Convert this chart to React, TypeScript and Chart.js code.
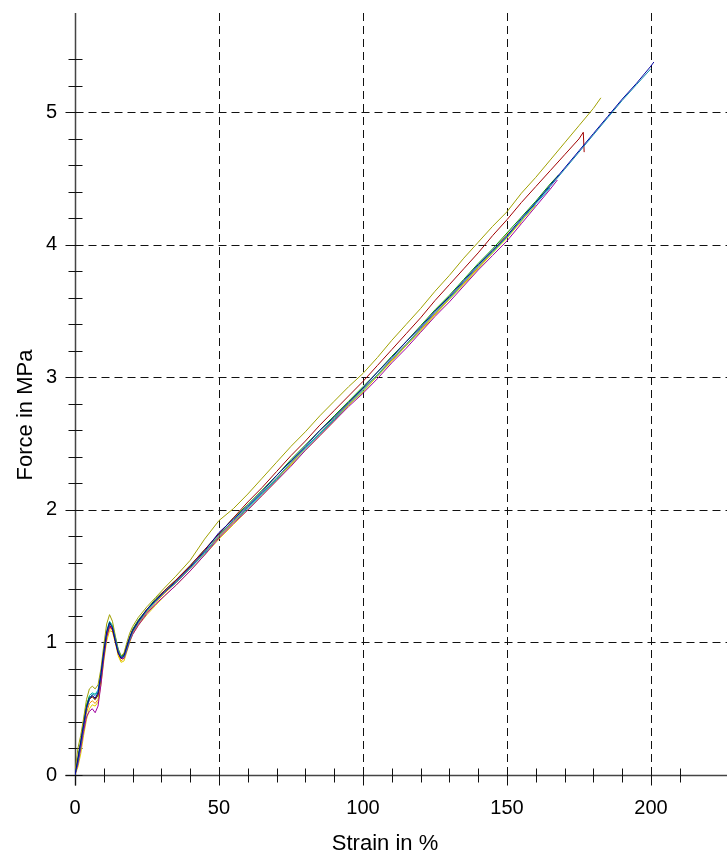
import React, { useEffect, useRef } from "react";
import { Chart, registerables } from "chart.js";

Chart.register(...registerables);

// ---------- data ----------
const STRAIN = [
  0, 1, 2, 3, 4, 5, 6, 7, 8, 9, 10, 11, 12, 13, 14, 15, 16, 17, 18, 19, 20,
  22, 25, 28, 31, 35, 40, 45, 50, 55, 60, 65, 70, 75, 80, 85, 90, 95, 100, 105,
  110, 115, 120, 125, 130, 135, 140, 145, 150, 155, 160, 165, 170, 175, 180, 185,
  190, 195, 200,
];

const NAVY = [
  0.0, 0.12, 0.25, 0.38, 0.51, 0.58, 0.6, 0.58, 0.62, 0.76, 0.93, 1.08, 1.15, 1.11, 1.01, 0.92, 0.88, 0.9, 0.97, 1.04, 1.09,
  1.16, 1.25, 1.32, 1.38, 1.46, 1.57, 1.69, 1.83, 1.93, 2.03, 2.14, 2.26, 2.37, 2.48, 2.6, 2.7, 2.81, 2.92, 3.04,
  3.15, 3.27, 3.38, 3.5, 3.61, 3.73, 3.85, 3.96, 4.07, 4.2, 4.32, 4.45, 4.58, 4.71, 4.84, 4.97, 5.1, 5.22, 5.35,
];
const NAVY_TAIL_X = [201];
const NAVY_TAIL_Y = [5.38];

const TEAL = [
  0.0, 0.1, 0.23, 0.37, 0.5, 0.57, 0.61, 0.6, 0.63, 0.75, 0.92, 1.07, 1.14, 1.12, 1.03, 0.94, 0.89, 0.89, 0.95, 1.02, 1.08,
  1.15, 1.24, 1.31, 1.38, 1.45, 1.56, 1.68, 1.81, 1.92, 2.02, 2.13, 2.24, 2.36, 2.47, 2.58, 2.69, 2.8, 2.91, 3.02,
  3.14, 3.25, 3.37, 3.49, 3.6, 3.72, 3.84, 3.95, 4.06, 4.19, 4.32, 4.44, 4.57, 4.7, 4.83, 4.96, 5.09, 5.21, 5.33,
];
const TEAL_TAIL_X: number[] = [];
const TEAL_TAIL_Y: number[] = [];

const OLIVE = [
  0.02, 0.2, 0.3, 0.43, 0.57, 0.65, 0.67, 0.65, 0.68, 0.8, 0.98, 1.14, 1.21, 1.16, 1.05, 0.95, 0.9, 0.92, 1.0, 1.07, 1.12,
  1.19, 1.27, 1.34, 1.41, 1.5, 1.62, 1.78, 1.92, 2.01, 2.12, 2.24, 2.36, 2.48, 2.59, 2.71, 2.82, 2.93, 3.03, 3.15,
  3.28, 3.4, 3.52, 3.65, 3.77, 3.9, 4.02, 4.14, 4.25, 4.39, 4.51, 4.64, 4.77, 4.9, 5.03,
];
const OLIVE_TAIL_X = [182.6];
const OLIVE_TAIL_Y = [5.11];

const RED = [
  0.0, 0.11, 0.24, 0.37, 0.5, 0.57, 0.59, 0.57, 0.61, 0.74, 0.91, 1.06, 1.13, 1.1, 1.01, 0.92, 0.88, 0.9, 0.97, 1.03, 1.09,
  1.16, 1.25, 1.32, 1.39, 1.47, 1.58, 1.7, 1.82, 1.94, 2.06, 2.17, 2.29, 2.41, 2.52, 2.64, 2.75, 2.86, 2.97, 3.09,
  3.21, 3.33, 3.45, 3.58, 3.7, 3.82, 3.94, 4.07, 4.19, 4.32, 4.44, 4.56, 4.68, 4.8,
];
const RED_TAIL_X = [176.5, 176.8];
const RED_TAIL_Y = [4.85, 4.7];

const PURPLE = [
  0.0, 0.08, 0.2, 0.33, 0.44, 0.48, 0.5, 0.47, 0.52, 0.68, 0.88, 1.04, 1.12, 1.1, 1.02, 0.93, 0.88, 0.88, 0.94, 1.01, 1.06,
  1.13, 1.22, 1.29, 1.35, 1.43, 1.54, 1.66, 1.79, 1.9, 2.0, 2.11, 2.22, 2.33, 2.45, 2.56, 2.67, 2.78, 2.88, 2.99,
  3.11, 3.22, 3.34, 3.46, 3.57, 3.69, 3.81, 3.92, 4.03, 4.16, 4.29, 4.42,
];
const PURPLE_TAIL_X = [167.5];
const PURPLE_TAIL_Y = [4.49];

const GREEN = [
  0.0, 0.13, 0.26, 0.4, 0.53, 0.59, 0.59, 0.57, 0.6, 0.74, 0.92, 1.07, 1.15, 1.12, 1.02, 0.93, 0.89, 0.91, 0.98, 1.04, 1.1,
  1.17, 1.25, 1.33, 1.39, 1.47, 1.58, 1.7, 1.82, 1.94, 2.04, 2.15, 2.26, 2.38, 2.49, 2.6, 2.71, 2.82, 2.93, 3.04,
  3.16, 3.27, 3.39, 3.51, 3.62, 3.74, 3.86, 3.97, 4.09, 4.21, 4.33, 4.46,
];
const GREEN_TAIL_X = [168];
const GREEN_TAIL_Y = [4.53];

const YELLOW = [
  0.0, 0.06, 0.16, 0.3, 0.42, 0.5, 0.53, 0.52, 0.55, 0.68, 0.86, 1.01, 1.09, 1.08, 1.0, 0.9, 0.85, 0.86, 0.93, 1.0, 1.06,
  1.13, 1.21, 1.28, 1.35, 1.43, 1.54, 1.66, 1.78, 1.89, 2.0, 2.11, 2.22, 2.34, 2.45, 2.56, 2.67, 2.79, 2.89, 3.01,
  3.12, 3.24, 3.35, 3.47, 3.59, 3.7, 3.82, 3.94, 4.05, 4.18, 4.3,
];
const YELLOW_TAIL_X: number[] = [];
const YELLOW_TAIL_Y: number[] = [];

const ORANGE = [
  0.0, 0.1, 0.21, 0.35, 0.47, 0.54, 0.56, 0.54, 0.57, 0.71, 0.89, 1.04, 1.11, 1.09, 1.0, 0.91, 0.86, 0.88, 0.95, 1.02, 1.07,
  1.14, 1.23, 1.3, 1.37, 1.45, 1.56, 1.68, 1.8, 1.91, 2.02, 2.13, 2.24, 2.35, 2.47, 2.58, 2.69, 2.8, 2.91, 3.02,
  3.13, 3.25, 3.36, 3.48, 3.6, 3.71, 3.83, 3.95, 4.08, 4.17,
];
const ORANGE_TAIL_X: number[] = [];
const ORANGE_TAIL_Y: number[] = [];

const CYAN = [
  0.0, 0.11, 0.24, 0.38, 0.52, 0.6, 0.62, 0.61, 0.64, 0.77, 0.94, 1.09, 1.16, 1.13, 1.04, 0.95, 0.9, 0.9, 0.96, 1.03, 1.08,
  1.15, 1.24, 1.31, 1.37, 1.45, 1.56, 1.67, 1.8, 1.91, 2.01, 2.12, 2.23, 2.35, 2.46, 2.57, 2.68, 2.79, 2.9, 3.01,
  3.13, 3.24, 3.36, 3.48, 3.59, 3.71, 3.83, 3.94, 4.06, 4.18, 4.31, 4.43,
];
const CYAN_TAIL_X: number[] = [];
const CYAN_TAIL_Y: number[] = [];

// ---------- axes ----------
const X_MIN = 0;
const X_MAX = 226.4;
const X_MINOR_STEP = 10;
const X_MAJOR_STEP = 50;
const Y_MIN = 0;
const Y_MAX = 5.75;
const Y_MINOR_STEP = 0.2;
const Y_MAJOR_STEP = 1;
const X_TITLE = "Strain in %";
const Y_TITLE = "Force in MPa";

const FONT = "'Liberation Sans', Arial, Helvetica, sans-serif";

function isMultiple(v: number, step: number) {
  const r = v / step;
  return Math.abs(r - Math.round(r)) < 1e-6;
}

function build(xs: number[], ys: number[], tx: number[], ty: number[]) {
  const pts = ys.map((y, i) => ({ x: xs[i], y }));
  tx.forEach((x, i) => pts.push({ x, y: ty[i] }));
  return pts;
}

const SERIES = [
  { color: "#0000A0", data: build(STRAIN, NAVY, NAVY_TAIL_X, NAVY_TAIL_Y) },
  { color: "#1090B0", data: build(STRAIN, TEAL, TEAL_TAIL_X, TEAL_TAIL_Y) },
  { color: "#A0A000", data: build(STRAIN, OLIVE, OLIVE_TAIL_X, OLIVE_TAIL_Y) },
  { color: "#A00000", data: build(STRAIN, RED, RED_TAIL_X, RED_TAIL_Y) },
  { color: "#A000A0", data: build(STRAIN, PURPLE, PURPLE_TAIL_X, PURPLE_TAIL_Y) },
  { color: "#00A000", data: build(STRAIN, GREEN, GREEN_TAIL_X, GREEN_TAIL_Y) },
  { color: "#E0D000", data: build(STRAIN, YELLOW, YELLOW_TAIL_X, YELLOW_TAIL_Y) },
  { color: "#F09000", data: build(STRAIN, ORANGE, ORANGE_TAIL_X, ORANGE_TAIL_Y) },
  { color: "#00B0B0", data: build(STRAIN, CYAN, CYAN_TAIL_X, CYAN_TAIL_Y) },
];

const axesPlugin = {
  id: "axesPlugin",
  beforeDatasetsDraw(chart: any) {
    const { ctx, chartArea: a, scales } = chart;
    const x = scales.x;
    const y = scales.y;
    const x0 = Math.round(x.getPixelForValue(X_MIN)) + 0.5;
    const y0 = Math.round(y.getPixelForValue(Y_MIN)) + 0.5;
    const seg = (x1: number, y1: number, x2: number, y2: number) => {
      ctx.beginPath();
      ctx.moveTo(x1, y1);
      ctx.lineTo(x2, y2);
      ctx.stroke();
    };
    ctx.save();
    // dashed grid
    ctx.strokeStyle = "#111";
    ctx.lineWidth = 1;
    ctx.setLineDash([8, 5]);
    for (const t of x.ticks) {
      if (t.value > X_MIN && isMultiple(t.value, X_MAJOR_STEP)) {
        const px = Math.round(x.getPixelForValue(t.value)) + 0.5;
        seg(px, a.top, px, y0);
      }
    }
    for (const t of y.ticks) {
      if (t.value > Y_MIN && isMultiple(t.value, Y_MAJOR_STEP)) {
        const py = Math.round(y.getPixelForValue(t.value)) + 0.5;
        seg(x0, py, a.right, py);
      }
    }
    ctx.setLineDash([]);
    // axis lines
    ctx.strokeStyle = "#444";
    ctx.lineWidth = 1.5;
    seg(x0, a.top, x0, y0 + 10);
    seg(x0 - 10, y0, a.right, y0);
    // tick marks
    ctx.strokeStyle = "#111";
    ctx.lineWidth = 1;
    for (const t of x.ticks) {
      if (!isMultiple(t.value, X_MINOR_STEP)) continue;
      const px = Math.round(x.getPixelForValue(t.value)) + 0.5;
      const major = isMultiple(t.value, X_MAJOR_STEP);
      seg(px, y0 - 7, px, y0 + (major ? 10 : 7));
    }
    for (const t of y.ticks) {
      if (!isMultiple(t.value, Y_MINOR_STEP)) continue;
      const py = Math.round(y.getPixelForValue(t.value)) + 0.5;
      const major = isMultiple(t.value, Y_MAJOR_STEP);
      seg(x0 - (major ? 10 : 7), py, x0 + 7, py);
    }
    ctx.restore();
  },
  afterDraw(chart: any) {
    const { ctx } = chart;
    ctx.save();
    ctx.fillStyle = "#000";
    ctx.font = `22px ${FONT}`;
    ctx.textAlign = "center";
    ctx.textBaseline = "alphabetic";
    ctx.fillText(X_TITLE, 385, 850);
    ctx.translate(32, 415);
    ctx.rotate(-Math.PI / 2);
    ctx.fillText(Y_TITLE, 0, 0);
    ctx.restore();
  },
};

export default function App() {
  const ref = useRef<HTMLCanvasElement | null>(null);
  useEffect(() => {
    document.body.style.margin = "0";
    const canvas = ref.current;
    if (!canvas) return;
    const chart = new Chart(canvas, {
      type: "line",
      data: {
        datasets: SERIES.map((s) => ({
          data: s.data,
          borderColor: s.color,
          backgroundColor: s.color,
          borderWidth: 1,
          pointRadius: 0,
          fill: false,
          tension: 0,
        })),
      },
      options: {
        animation: false,
        responsive: false,
        devicePixelRatio: 1,
        parsing: false as any,
        layout: { padding: { top: 13, left: 0, right: 0, bottom: 0 } },
        plugins: { legend: { display: false }, tooltip: { enabled: false }, title: { display: false } },
        scales: {
          x: {
            type: "linear",
            min: X_MIN,
            max: X_MAX,
            grid: { display: false, drawTicks: false },
            border: { display: false },
            afterFit: (s: any) => {
              s.height = 77;
              s.paddingLeft = 0;
              s.paddingRight = 0;
              s.paddingTop = 0;
              s.paddingBottom = 0;
            },
            ticks: {
              stepSize: X_MINOR_STEP,
              autoSkip: false,
              maxRotation: 0,
              padding: 21,
              color: "#000",
              font: { family: FONT, size: 20 },
              callback: (v: any) => (isMultiple(Number(v), X_MAJOR_STEP) ? String(Math.round(Number(v))) : ""),
            },
          },
          y: {
            type: "linear",
            min: Y_MIN,
            max: Y_MAX,
            grid: { display: false, drawTicks: false },
            border: { display: false },
            afterFit: (s: any) => {
              s.width = 75;
              s.paddingLeft = 0;
              s.paddingRight = 0;
              s.paddingTop = 0;
              s.paddingBottom = 0;
            },
            ticks: {
              stepSize: Y_MINOR_STEP,
              autoSkip: false,
              padding: 18,
              color: "#000",
              font: { family: FONT, size: 20 },
              callback: (v: any) => (isMultiple(Number(v), Y_MAJOR_STEP) ? String(Math.round(Number(v))) : ""),
            },
          },
        },
      },
      plugins: [axesPlugin],
    });
    return () => chart.destroy();
  }, []);
  return <canvas ref={ref} width={727} height={852} style={{ display: "block" }} />;
}
